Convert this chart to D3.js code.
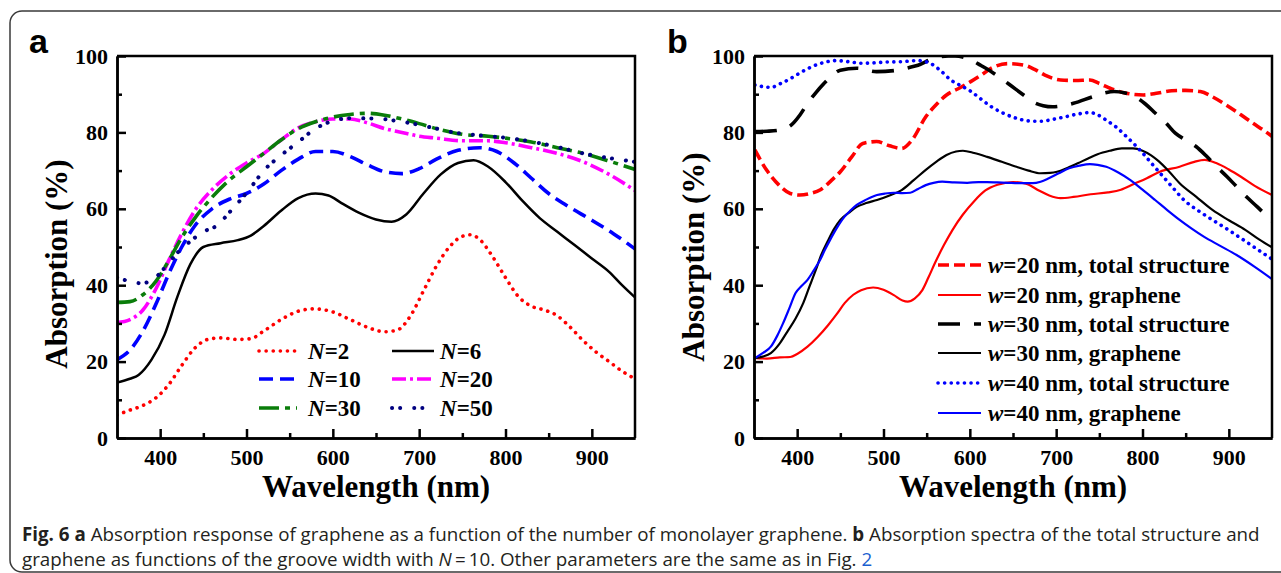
<!DOCTYPE html>
<html>
<head>
<meta charset="utf-8">
<script src="https://cdn.jsdelivr.net/npm/d3@7"></script>
<style>
  body { margin: 0; background: #fff; }
  svg { display: block; }
</style>
</head>
<body>
<svg id="fig" width="1281" height="573"></svg>
<script>
// ---- data: panel a, absorption of graphene vs wavelength for N layers ----
const n2 = [[350,6],[365,7.3],[380,8.5],[395,10.5],[410,14],[425,19],[440,23.5],[455,25.8],[470,26.2],[490,25.8],[505,26],[520,28],[540,31],[560,33.2],[578,33.8],[600,33],[620,31],[640,29],[660,27.8],[675,28.3],[690,32],[705,38.5],[720,45],[735,50],[750,52.8],[760,53.2],[770,52],[785,47.5],[800,42],[815,37],[830,34.5],[845,33.5],[860,32],[875,29],[890,25.5],[905,22.5],[920,20],[935,17.5],[950,15.5]];
const n6 = [[350,14.5],[365,15.5],[375,16.5],[390,20.5],[405,27],[420,37],[435,45.5],[450,50],[470,51],[490,51.8],[505,53],[520,55.5],[540,59.5],[560,62.8],[580,64],[595,63.5],[610,61.5],[630,59],[650,57.2],[668,56.6],[685,58.5],[705,64],[725,69],[745,72],[763,72.7],[780,71],[800,67],[820,62],[840,57.5],[860,54],[880,50.5],[900,47],[920,43.5],[935,40],[950,36.8]];
const n10 = [[350,20.5],[365,23],[380,28],[395,35],[410,43],[425,50],[440,55.5],[460,60],[480,62.5],[500,64],[520,66.5],[540,70],[560,73],[580,75],[600,75],[620,73.7],[640,71.5],[660,69.7],[680,69.2],[700,70.5],[720,73],[745,75.3],[770,76],[790,75],[810,72],[830,68],[850,64],[870,61],[900,57],[925,53.5],[950,49.5]];
const n20 = [[350,30.2],[365,31],[380,33.5],[395,39],[410,46.5],[425,53.5],[440,59.5],[460,65],[480,69],[500,72],[520,74.5],[540,78],[560,81.2],[580,82.8],[600,83.5],[620,83.5],[640,82.5],[660,81],[680,80],[700,79],[720,78.5],[750,77.8],[780,77.8],[800,77.3],[830,76],[860,74.5],[890,72.3],[920,69],[950,64.8]];
const n30 = [[350,35.5],[365,35.7],[380,37.5],[395,41],[410,46.5],[425,52.5],[440,57.5],[460,63],[480,67.5],[500,71],[520,74.5],[540,78],[560,81],[580,82.8],[600,84],[620,84.7],[640,85],[660,84.5],[680,83.5],[700,82.3],[720,81],[750,79.5],[780,79],[800,78.5],[830,77.5],[860,76],[890,74.5],[920,72.5],[950,70.3]];
const n50 = [[350,42],[365,41],[378,40.5],[392,41.5],[405,44.5],[420,48.5],[435,51.5],[450,54],[465,55.5],[482,59.5],[503,65],[520,70],[540,74],[560,77.5],[580,81],[600,83],[620,83.7],[650,83.6],[680,82.8],[710,81.5],[740,80],[770,79.2],[800,78.6],[830,77.6],[860,76.2],[890,74.5],[920,73.3],[950,72.3]];

// ---- data: panel b, groove width w ----
const w20Total = [[351,75.4],[365,70],[379,66.2],[392,64],[403,63.6],[415,64],[427,65],[440,67.5],[450,69.7],[463,73.5],[476,77.1],[492,77.6],[507,76.5],[521,75.8],[533,78],[549,84.1],[562,87.5],[573,89.8],[587,91.5],[601,93.3],[613,95],[625,96.8],[644,98],[663,97.6],[675,96.5],[687,95],[705,93.7],[722,93.6],[739,93.7],[750,92.8],[763,91.5],[780,90.3],[801,89.8],[818,90.3],[834,90.9],[850,91],[867,90.7],[882,89.2],[900,86.7],[914,84.6],[928,82.4],[940,80.6],[950,79]];
const w20Gr = [[350,21],[365,20.8],[380,21.1],[392,21.2],[400,22],[412,23.9],[424,26.5],[436,29.6],[446,32.5],[455,35.3],[465,37.5],[474,38.7],[488,39.4],[500,38.8],[512,37.4],[522,36],[528,35.7],[536,36.5],[545,38.7],[552,42],[560,46],[570,50.5],[580,54.5],[592,58.5],[605,62],[618,64.8],[632,66.3],[650,67],[665,66.6],[680,64.8],[692,63.5],[705,62.8],[720,63.1],[740,63.8],[760,64.3],[775,65],[790,66.5],[805,68],[820,69.7],[843,71],[860,72.3],[872,72.8],[886,71.9],[900,70.3],[914,68.4],[930,66],[950,63.6]];
const w30Total = [[351,80.2],[365,80.3],[379,80.6],[393,81.9],[403,84.5],[412,87.6],[422,90.5],[431,92.8],[440,94.8],[450,96.3],[469,96.8],[492,95.9],[516,96.3],[530,97],[540,97.6],[558,99.4],[575,100],[583,100],[601,99],[613,97.5],[625,95.9],[637,94],[649,92],[661,90],[673,88],[685,87],[696,86.7],[708,87],[720,87.6],[743,89.4],[756,90.3],[767,90.7],[780,90.3],[791,89.4],[803,87.5],[815,85],[827,82.5],[838,79.8],[850,78],[862,76.3],[874,73.8],[886,71],[898,68.4],[909,65.8],[921,63],[933,60.5],[950,56.8]];
const w30Gr = [[351,20.9],[360,21.3],[369.5,22.2],[379,24.5],[388.5,27.8],[398,31.2],[407,35.3],[414,39.5],[421.6,44],[428,48],[436,51.8],[443,54.8],[450,57.1],[460,59],[469,60.5],[480,61.5],[492.5,62.3],[507,63.5],[521,64.9],[535,67.5],[549,70.2],[561,72.3],[573,74.1],[584,75],[592,75.2],[605,74.6],[620,73.6],[637,72.3],[654,71],[668,70],[682,69.3],[693,69.4],[701,69.7],[713,70.7],[725,71.9],[737,73.2],[748,74.3],[762,75.2],[776,75.8],[789,75.8],[800,75.2],[810,74],[819,72.4],[831,69.7],[843,66.7],[862,63.2],[881,59.7],[900,57],[919,54.5],[935,52],[950,49.9]];
const w40Total = [[351,92.4],[360,92],[369.5,91.8],[381,92.8],[393,94.2],[405,95.8],[417,97.2],[431,98.3],[445,98.8],[460,98.5],[474,98.1],[488,98.2],[502,98.4],[520,98.5],[540,98.8],[554,98.1],[566,96.2],[578,93.7],[590,92.2],[601.5,90.7],[613,88.7],[625,86.7],[639,85],[654,83.7],[668,83],[682,82.9],[696,83.4],[711,84.1],[725,84.8],[739,85.2],[748,84.6],[758,83.2],[770,81.3],[781.5,78.9],[791,76.8],[800.6,74.5],[812,71.5],[824,68.4],[836,65.3],[848,62.3],[864,59.6],[881,57.1],[898,54.7],[914,52.3],[933,49.4],[950,46.8]];
const w40Gr = [[351,20.9],[360,22.2],[369.5,23.9],[377,26.8],[383.6,30],[391,34],[398,37.9],[405,39.8],[412,41.4],[419,43.8],[426.5,46.6],[432,49.2],[438,51.8],[446,55],[454.7,57.9],[462,59.6],[469,61],[480,62.4],[492.5,63.6],[502,64],[512,64.2],[522,64.1],[531,64.2],[540,65.2],[549,66.2],[558,66.8],[568,67.1],[582,66.9],[597,66.8],[610,67],[620,67],[632,66.9],[644,66.8],[658,66.7],[673,66.7],[682,67.1],[691.5,68],[703,69.3],[715,70.6],[727,71.3],[739,71.7],[748,71.5],[758,71],[772,69.5],[786,67.5],[800,65],[814.6,62.3],[829,59.6],[843,57.1],[857,54.8],[871,52.7],[890,50.3],[909,47.9],[930,44.8],[950,41.6]];

// ---- axes ----
const xMajor = [400, 500, 600, 700, 800, 900];
const xMinor = [450, 550, 650, 750, 850];
const yMajor = [0, 20, 40, 60, 80, 100];
const yMinor = [10, 30, 50, 70, 90];

const serif = "'Liberation Serif', 'Times New Roman', serif";
const svg = d3.select("#fig");

// outer frame of the figure box
svg.append("rect")
  .attr("x", 10).attr("y", 11)
  .attr("width", 1330).attr("height", 561)
  .attr("rx", 12)
  .attr("fill", "none")
  .attr("stroke", "#3a3a3a")
  .attr("stroke-width", 1.5);

function drawPanel(p) {
  const x = d3.scaleLinear().domain([350, 950]).range([p.left, p.right]);
  const y = d3.scaleLinear().domain([0, 100]).range([p.bottom, p.top]);
  const g = svg.append("g");

  const clipId = "clip-" + p.letter;
  svg.append("clipPath").attr("id", clipId)
    .append("rect")
    .attr("x", p.left).attr("y", p.top)
    .attr("width", p.right - p.left).attr("height", p.bottom - p.top);

  const line = d3.line()
    .x(d => x(d[0]))
    .y(d => y(d[1]))
    .curve(d3.curveMonotoneX);

  const curves = g.append("g").attr("clip-path", `url(#${clipId})`);
  p.series.forEach(s => {
    curves.append("path")
      .attr("d", line(s.data))
      .attr("fill", "none")
      .attr("stroke", s.color)
      .attr("stroke-width", s.width)
      .attr("stroke-dasharray", s.dash || null)
      .attr("stroke-linecap", s.cap || "butt")
      .attr("stroke-linejoin", "round");
  });

  // axes with inward ticks
  g.append("g")
    .attr("transform", `translate(0,${p.bottom})`)
    .call(d3.axisBottom(x).tickValues(xMajor).tickSize(-9).tickSizeOuter(0).tickPadding(11));
  g.append("g")
    .attr("transform", `translate(0,${p.bottom})`)
    .call(d3.axisBottom(x).tickValues(xMinor).tickSize(-5).tickSizeOuter(0).tickFormat(""));
  g.append("g")
    .attr("transform", `translate(${p.left},0)`)
    .call(d3.axisLeft(y).tickValues(yMajor).tickSize(-9).tickSizeOuter(0).tickPadding(9));
  g.append("g")
    .attr("transform", `translate(${p.left},0)`)
    .call(d3.axisLeft(y).tickValues(yMinor).tickSize(-5).tickSizeOuter(0).tickFormat(""));

  g.selectAll(".domain, .tick line")
    .attr("stroke", "#000")
    .attr("stroke-width", 2.5);
  g.selectAll(".tick text")
    .attr("font-family", serif)
    .attr("font-weight", "bold")
    .attr("font-size", 22)
    .attr("fill", "#000");

  // top and right border
  g.append("path")
    .attr("d", `M${p.left},${p.top}H${p.right}V${p.bottom}`)
    .attr("fill", "none")
    .attr("stroke", "#000")
    .attr("stroke-width", 2.5);

  // axis titles
  g.append("text")
    .attr("x", (p.left + p.right) / 2).attr("y", 497)
    .attr("text-anchor", "middle")
    .attr("font-family", serif).attr("font-weight", "bold").attr("font-size", 31)
    .text("Wavelength (nm)");
  g.append("text")
    .attr("transform", `translate(${p.yTitleX},${p.yTitleY}) rotate(-90)`)
    .attr("text-anchor", "middle")
    .attr("font-family", serif).attr("font-weight", "bold").attr("font-size", 31)
    .text("Absorption (%)");

  // panel letter
  svg.append("text")
    .attr("x", p.letterX).attr("y", 53)
    .attr("font-family", "'Liberation Sans', Arial, sans-serif")
    .attr("font-weight", "bold").attr("font-size", 34)
    .text(p.letter);

  // legend
  p.legend.forEach(e => {
    const s = p.series[e.i];
    g.append("line")
      .attr("x1", e.x).attr("x2", e.x + e.len)
      .attr("y1", e.y).attr("y2", e.y)
      .attr("stroke", s.color)
      .attr("stroke-width", s.width)
      .attr("stroke-dasharray", s.dash || null)
      .attr("stroke-linecap", s.cap || "butt");
    const t = g.append("text")
      .attr("x", e.x + e.len + e.gap).attr("y", e.y + 8)
      .attr("font-family", serif).attr("font-weight", "bold").attr("font-size", 23);
    t.append("tspan").attr("font-style", "italic").text(e.sym);
    t.append("tspan").text(e.rest);
  });
}

drawPanel({
  letter: "a", letterX: 29,
  left: 117, right: 635, top: 56, bottom: 438,
  yTitleX: 67, yTitleY: 264,
  series: [
    { data: n2,  color: "#ff0000", width: 3.6, dash: "0.1 7", cap: "round" },
    { data: n6,  color: "#000000", width: 2.5 },
    { data: n10, color: "#0000ff", width: 3.6, dash: "14 7" },
    { data: n20, color: "#ff00ff", width: 3.6, dash: "14 4 3 4" },
    { data: n30, color: "#0a7d0a", width: 3.6, dash: "20 6 5 6" },
    { data: n50, color: "#000080", width: 4, dash: "0.1 8 0.1 14", cap: "round" }
  ],
  legend: [
    { i: 0, sym: "N", rest: "=2",  x: 259, y: 351, len: 38, gap: 11 },
    { i: 1, sym: "N", rest: "=6",  x: 392, y: 351, len: 42, gap: 6 },
    { i: 2, sym: "N", rest: "=10", x: 259, y: 379, len: 38, gap: 11 },
    { i: 3, sym: "N", rest: "=20", x: 392, y: 379, len: 42, gap: 6 },
    { i: 4, sym: "N", rest: "=30", x: 259, y: 408, len: 38, gap: 11 },
    { i: 5, sym: "N", rest: "=50", x: 392, y: 408, len: 42, gap: 6 }
  ]
});

drawPanel({
  letter: "b", letterX: 667,
  left: 754, right: 1272, top: 56, bottom: 438,
  yTitleX: 704, yTitleY: 257,
  series: [
    { data: w20Total, color: "#ff0000", width: 3.6, dash: "11 5" },
    { data: w20Gr,    color: "#ff0000", width: 2.2 },
    { data: w30Total, color: "#000000", width: 3.6, dash: "22 14" },
    { data: w30Gr,    color: "#000000", width: 2.2 },
    { data: w40Total, color: "#0000ff", width: 3.6, dash: "0.1 6.5", cap: "round" },
    { data: w40Gr,    color: "#0000ff", width: 2.2 }
  ],
  legend: [
    { i: 0, sym: "w", rest: "=20 nm, total structure", x: 938, y: 265, len: 43, gap: 7 },
    { i: 1, sym: "w", rest: "=20 nm, graphene",        x: 938, y: 295, len: 43, gap: 7 },
    { i: 2, sym: "w", rest: "=30 nm, total structure", x: 938, y: 324, len: 43, gap: 7 },
    { i: 3, sym: "w", rest: "=30 nm, graphene",        x: 938, y: 353, len: 43, gap: 7 },
    { i: 4, sym: "w", rest: "=40 nm, total structure", x: 938, y: 383, len: 43, gap: 7 },
    { i: 5, sym: "w", rest: "=40 nm, graphene",        x: 938, y: 413, len: 43, gap: 7 }
  ]
});

// ---- caption ----
const capFont = "'Liberation Sans Narrow', 'Open Sans', 'Noto Sans', sans-serif";
const capGroup = svg.append("g");
const cap1 = capGroup.append("text")
  .attr("x", 0).attr("y", 541)
  .attr("font-family", capFont).attr("font-size", 19).attr("fill", "#231f20");
cap1.append("tspan").attr("font-weight", "bold").text("Fig. 6 a");
cap1.append("tspan").text(" Absorption response of graphene as a function of the number of monolayer graphene. ");
cap1.append("tspan").attr("font-weight", "bold").text("b");
cap1.append("tspan").text(" Absorption spectra of the total structure and");

const cap2 = capGroup.append("text")
  .attr("x", 0).attr("y", 566)
  .attr("font-family", capFont).attr("font-size", 19).attr("fill", "#231f20");
cap2.append("tspan").text("graphene as functions of the groove width with ");
cap2.append("tspan").attr("font-style", "italic").text("N");
cap2.append("tspan").text("\u2009=\u200910. Other parameters are the same as in Fig. ");
cap2.append("tspan").attr("fill", "#1a5fd0").text("2");

// squeeze caption horizontally to the reference line width
const k = 1238 / cap1.node().getComputedTextLength();
capGroup.attr("transform", `translate(22,0) scale(${k},1)`);
</script>
</body>
</html>
